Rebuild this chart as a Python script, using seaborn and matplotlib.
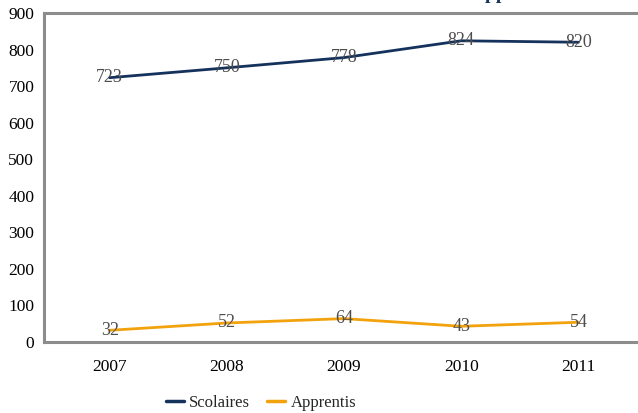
import pandas as pd
import seaborn as sns
import matplotlib.pyplot as plt

# ============ Data ============
years = ["2007", "2008", "2009", "2010", "2011"]
scolaires = [723, 750, 778, 824, 820]
apprentis = [32, 52, 64, 43, 54]
series_names = ["Scolaires", "Apprentis"]
colors = {"Scolaires": "#14325C", "Apprentis": "#F2A20C"}

df = pd.DataFrame({
    "Année": years * 2,
    "Valeur": scolaires + apprentis,
    "Série": [series_names[0]] * len(years) + [series_names[1]] * len(years),
})

# ============ Style ============
sns.set_style("white")
plt.rcParams['font.family'] = ['Liberation Serif', 'DejaVu Serif']

fig = plt.figure(figsize=(6.38, 4.13), dpi=100)
ax = fig.add_axes([44 / 638, 71 / 413, 600 / 638, 329 / 413])

sns.lineplot(data=df, x="Année", y="Valeur", hue="Série", palette=colors,
             linewidth=2.0, ax=ax, legend=False, sort=False)

# data labels
for name, vals in zip(series_names, [scolaires, apprentis]):
    for i, v in enumerate(vals):
        ax.text(i, v, str(v), ha="center", va="center", fontsize=13,
                color="#4D4D4D")

ax.set_xlim(-0.56, 4.56)
ax.set_ylim(0, 900)
ax.set_yticks(range(0, 901, 100))
ax.set_xlabel("")
ax.set_ylabel("")
ax.tick_params(axis="both", length=0, labelsize=12.5, colors="#000000")
ax.tick_params(axis="x", pad=12)
ax.tick_params(axis="y", pad=7)
for side in ["left", "bottom", "top", "right"]:
    ax.spines[side].set_color("#8C8C8C")
    ax.spines[side].set_linewidth(2.2)

# legend
handles = [plt.Line2D([], [], color=colors[n], linewidth=2.5) for n in series_names]
fig.legend(handles, series_names, loc="center", bbox_to_anchor=(261 / 638, 10 / 413),
           ncol=2, frameon=False, fontsize=12, handlelength=1.1,
           handletextpad=0.3, columnspacing=1.0)

# title (cut off at the top of the image, only descenders visible)
title_kw = dict(fontsize=14, fontweight="bold", color="#14325C")
fig.canvas.draw()
r = fig.canvas.get_renderer()
prefix = fig.text(0, 0, "Scolaires et a", **title_kw)
w = prefix.get_window_extent(renderer=r).width
prefix.remove()
fig.text((485 - w) / 638, 1 + 1.5 / 413, "Scolaires et apprentis",
         ha="left", va="baseline", **title_kw)

fig.savefig("out.png", dpi=100)
